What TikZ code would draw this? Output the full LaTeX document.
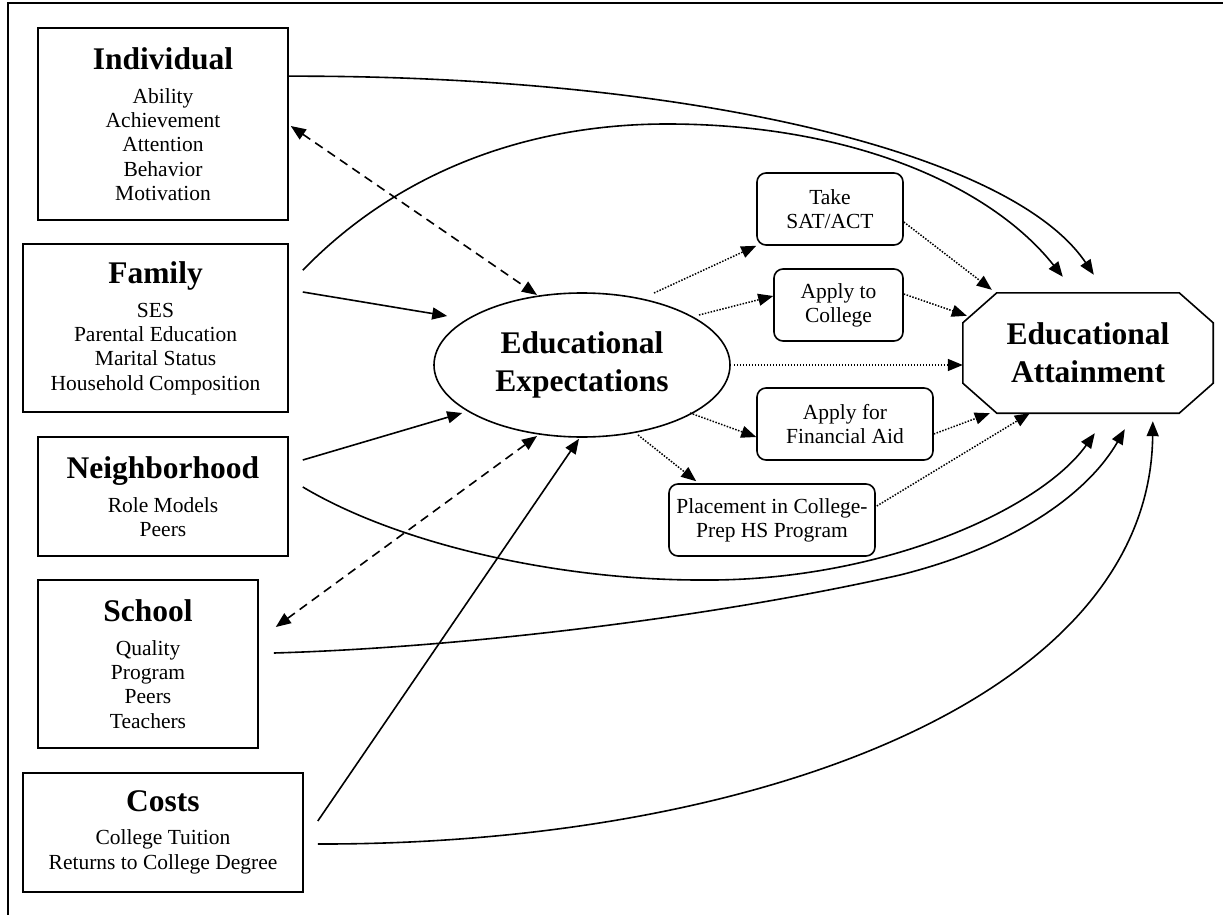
\documentclass[tikz,border=0pt]{standalone}
\usepackage{fontspec}
\setmainfont{Liberation Serif}
\usetikzlibrary{arrows.meta,calc,shapes.geometric}
\newcommand{\ttlfont}{\fontsize{31.5}{38}\selectfont\bfseries}
\newcommand{\bdyfont}{\fontsize{21.5}{24.3}\selectfont}
\newcommand{\smlfont}{\fontsize{21.5}{24}\selectfont}
\begin{document}
\begin{tikzpicture}[x=1pt,y=-1pt,
  factor/.style={draw,line width=1.6pt,align=center,font=\bdyfont,inner sep=0pt},
  stepbox/.style={draw,line width=1.6pt,rounded corners=9pt,align=center,font=\smlfont,inner sep=0pt,minimum height=72},
  dotarrow/.style={line width=1.5pt,dash pattern=on 1.5pt off 1.5pt,-{Triangle[length=15pt,width=12pt]}},
  dasharrow/.style={line width=1.6pt,dash pattern=on 9pt off 6pt,{Triangle[length=15pt,width=12pt]}-{Triangle[length=15pt,width=12pt]}},
  solidarrow/.style={line width=1.6pt,-{Triangle[length=15pt,width=12pt]}},
]
\useasboundingbox (0,0) rectangle (1223,915);
\draw[line width=1.6pt] (8,915) -- (8,3) -- (1223,3);

% factor boxes
\node[factor,minimum width=250,minimum height=192] (ind) at (163,124)
  {{\ttlfont Individual}\\[9.7pt]Ability\\Achievement\\Attention\\Behavior\\Motivation};
\node[factor,minimum width=265,minimum height=168] (fam) at (155.5,328)
  {{\ttlfont Family}\\[9.7pt]SES\\Parental Education\\Marital Status\\Household Composition};
\node[factor,minimum width=250,minimum height=119] (nbh) at (163,496.5)
  {{\ttlfont Neighborhood}\\[9.7pt]Role Models\\Peers};
\node[factor,minimum width=220,minimum height=168] (sch) at (148,664)
  {{\ttlfont School}\\[9.7pt]Quality\\Program\\Peers\\Teachers};
\node[factor,minimum width=280,minimum height=119] (cst) at (163,832.5)
  {{\ttlfont Costs}\\[8.7pt]College Tuition\\Returns to College Degree};

% expectations ellipse
\node[draw,ellipse,line width=1.6pt,minimum width=296,minimum height=144,inner sep=0pt,
  align=center,font=\ttlfont] (exp) at (582,365) {Educational\\Expectations};

% attainment octagon
\node[minimum width=250,minimum height=120,inner sep=0pt,align=center,font=\ttlfont]
  (att) at (1088,353) {Educational\\Attainment};
\draw[line width=1.6pt] ($(att.north west)+(34,0)$) -- ($(att.north east)+(-34,0)$)
  -- ($(att.north east)+(0,30)$) -- ($(att.south east)+(0,-30)$)
  -- ($(att.south east)+(-34,0)$) -- ($(att.south west)+(34,0)$)
  -- ($(att.south west)+(0,-30)$) -- ($(att.north west)+(0,30)$) -- cycle;

% intermediate steps
\node[stepbox,minimum width=146] (sat) at (830,209) {Take\\SAT/ACT};
\node[stepbox,minimum width=129] (col) at (838.5,305) {Apply to\\College};
\node[stepbox,minimum width=176] (fin) at (845,424) {Apply for\\Financial Aid};
\node[stepbox,minimum width=206] (plc) at (772,520) {Placement in College-\\Prep HS Program};

% dotted paths
\draw[dotarrow] ($(exp.center)+(72,-72)$) -- (sat.south west);
\draw[dotarrow] ($(exp.center)+(117,-50)$) -- ($(col.west)+(0,-9)$);
\draw[dotarrow,shorten <=3pt] (exp.east) -- (exp.east -| att.west);
\draw[dotarrow] ($(exp.center)+(108,48)$) -- ($(fin.west)+(0,13)$);
\draw[dotarrow] ($(exp.center)+(56,70)$) -- ($(plc.north west)+(28,-2)$);
\draw[dotarrow] ($(sat.east)+(0,13)$) -- ($(att.north west)+(29,-3)$);
\draw[dotarrow] ($(col.east)+(0,-11)$) -- ($(att.north west)+(4,23)$);
\draw[dotarrow] ($(fin.east)+(0,10)$) -- ($(att.south west)+(27,0)$);
\draw[dotarrow] ($(plc.east)+(1,-14)$) -- ($(att.south west)+(67,0)$);

% solid arrows to expectations
\draw[solidarrow] ($(fam.east)+(14,-36)$) -- ($(exp.west)+(14,-49)$);
\draw[solidarrow] ($(nbh.east)+(14,-36.5)$) -- ($(exp.west)+(29,48)$);
\draw[solidarrow] ($(cst.east)+(14,-11.5)$) -- ($(exp.south)+(-3,1)$);

% dashed two-way arrows
\draw[dasharrow] ($(ind.east)+(2,2)$) -- ($(exp.center)+(-45,-70)$);
\draw[dasharrow] ($(sch.east)+(17,-37)$) -- ($(exp.center)+(-45,71)$);

% direct curves to attainment
\draw[solidarrow] ($(ind.north east)+(0,49)$) .. controls (680,75) and (1010,150) .. ($(att.north west)+(131,-18)$);
\draw[solidarrow] ($(fam.north east)+(14,27)$) .. controls (400,170) and (530,124) .. (667,124)
  .. controls (850,124) and (990,185) .. ($(att.north west)+(100,-16)$);
\draw[solidarrow] ($(nbh.east)+(14,-9.5)$) .. controls (400,545) and (560,580) .. (700,580)
  .. controls (880,582) and (1040,510) .. ($(att.south west)+(132,20)$);
\draw[solidarrow] ($(sch.east)+(15,-11)$) .. controls (450,648) and (700,620) .. (900,575)
  .. controls (1020,545) and (1090,490) .. ($(att.south west)+(162,16)$);
\draw[solidarrow] ($(cst.east)+(14,11.5)$) .. controls (750,845) and (1150,700) .. ($(att.south west)+(190,8)$);
\end{tikzpicture}
\end{document}
